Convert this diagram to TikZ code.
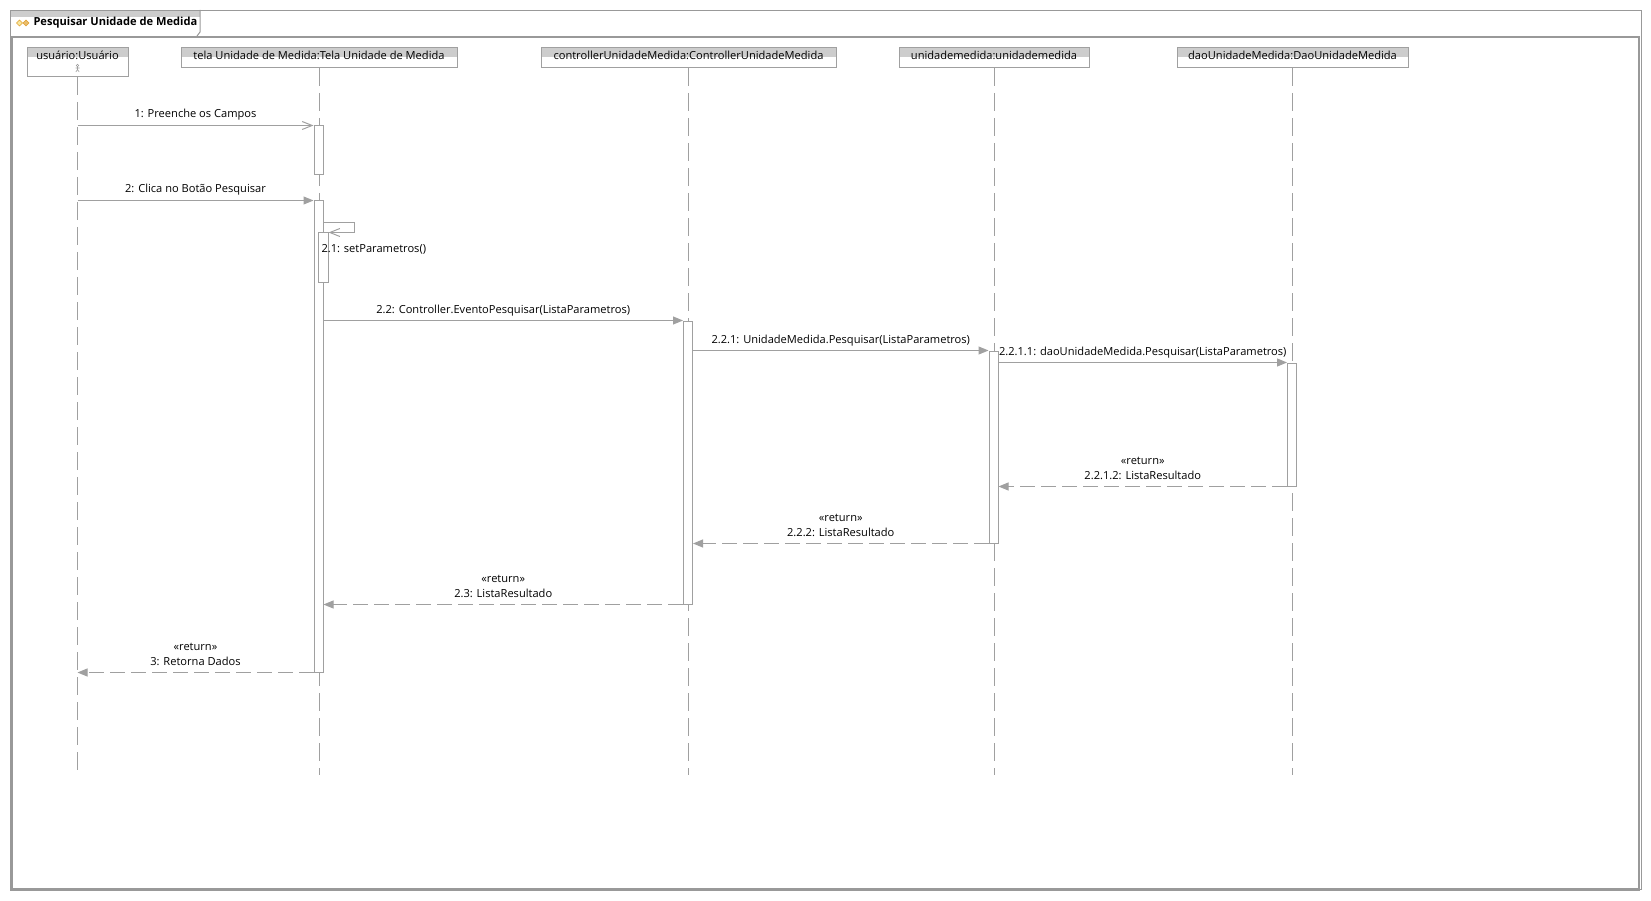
\documentclass[tikz,border=0pt]{standalone}
\usepackage{fontspec}
\setmainfont{Open Sans}
\usepackage{xcolor}
\usepackage{tikz}
\usetikzlibrary{arrows.meta}
\usetikzlibrary{positioning}
\definecolor{linegray}{HTML}{A0A0A0}
\definecolor{bandgray}{HTML}{CDCDCD}
\definecolor{framegray}{HTML}{999999}
\definecolor{iconorange}{HTML}{E0A030}
\definecolor{iconyellow}{HTML}{F8E8A0}

\begin{document}
\begin{tikzpicture}[
    x=1pt, y=-1pt,
    line width=1pt,
    every node/.style={font=\fontsize{11.1}{13}\selectfont},
    head/.style={draw=linegray, fill=white, anchor=north, inner sep=0pt,
      minimum height=20pt, text height=12pt, text depth=8pt,
      path picture={\fill[bandgray] (path picture bounding box.north west)
        rectangle ([yshift=-10pt]path picture bounding box.north east);}},
    act/.style={draw=linegray, fill=white, minimum width=9pt, inner sep=0pt},
    lifeline/.style={draw=linegray, dash pattern=on 18pt off 7pt},
    msg/.style={draw=linegray, -{Triangle[length=10pt,width=8pt]}},
    msgopen/.style={draw=linegray, -{Straight Barb[length=10pt,width=8pt]}},
    reply/.style={draw=linegray, dash pattern=on 15pt off 6pt, -{Triangle[length=10pt,width=8pt]}},
    lbl/.style={inner sep=0pt, text height=9pt, text depth=3pt}
]
\useasboundingbox (0,0) rectangle (1651,901);
\fill[bandgray] (10,10) rectangle (200,17);
\draw[framegray] (10.5,10.5) rectangle (1641,889);
\draw[framegray] (200,10) -- (200,32) -- (197,36);
\draw[framegray, line width=2.5pt] (11.5,37) rectangle (1639,889.5);
\draw[iconorange, fill=iconyellow, line width=0.7pt] (16.5,23) -- (19.5,20) -- (22.5,23) -- (19.5,26) -- cycle;
\draw[iconorange, fill=iconorange!70, line width=0.7pt] (23,23) -- (26,20) -- (29,23) -- (26,26) -- cycle;
\node[anchor=west, inner sep=0pt, font=\fontsize{11.1}{13}\selectfont\bfseries] (title) at (33,22.5) {Pesquisar Unidade de Medida};

\node[head, minimum width=101pt, text depth=17pt] (hUsu) at (77.5,47) {usuário:Usuário};
\node[head, minimum width=276pt] (hTela) at (319,47) {tela Unidade de Medida:Tela Unidade de Medida};
\node[head, minimum width=295pt] (hCtrl) at (688.5,47) {controllerUnidadeMedida:ControllerUnidadeMedida};
\node[head, minimum width=190pt] (hUni) at (994,47) {unidademedida:unidademedida};
\node[head, minimum width=231pt] (hDao) at (1292.5,47) {daoUnidadeMedida:DaoUnidadeMedida};
\draw[linegray, line width=0.6pt] (77.5,65.5) circle (1.3) (77.5,66.8) -- (77.5,69.5)
  (75.5,68) -- (79.5,68) (75.8,72) -- (77.5,69.5) -- (79.2,72);

\coordinate (bot) at (0,775);
\foreach \h in {hUsu,hTela,hCtrl,hUni,hDao}
  \draw[lifeline] (\h.south) -- (\h.south |- bot);

\node[act, minimum height=49pt] (actTa) at (318.5,150.5) {};
\node[act, minimum height=471pt] (actTb) at (318.5,436.5) {};
\node[act, minimum width=10pt, minimum height=50pt] (actS) at (323,258) {};
\node[act, minimum height=283pt] (actC) at (688,462.5) {};
\node[act, minimum height=192pt] (actU) at (993.5,447) {};
\node[act, minimum height=123pt] (actD) at (1292,424.5) {};

\draw[msgopen] (hUsu.south |- actTa.north) -- (actTa.north west)
  node[lbl, midway, above=4pt] (l1) {1: Preenche os Campos};
\draw[msg] (hUsu.south |- actTb.north) -- (actTb.north west)
  node[lbl, midway, above=4pt] (l2) {2: Clica no Botão Pesquisar};
\coordinate (s21) at (354,223);
\draw[msgopen] (s21 -| actTb.east) -- (s21) |- (actS.north east);
\node[lbl, anchor=west] (l21) at (321,250) {2.1: setParametros()};
\draw[msg] (actTb.east |- actC.north) -- (actC.north west)
  node[lbl, midway, above=4pt] (l22) {2.2: Controller.EventoPesquisar(ListaParametros)};
\draw[msg] (actC.east |- actU.north) -- (actU.north west)
  node[lbl, midway, above=4pt] (l221) {2.2.1: UnidadeMedida.Pesquisar(ListaParametros)};
\draw[msg] (actU.east |- actD.north) -- (actD.north west)
  node[lbl, midway, above=4pt] (l2211) {2.2.1.1: daoUnidadeMedida.Pesquisar(ListaParametros)};

\draw[reply] (actD.south west) -- (actU.east |- actD.south)
  node[lbl, midway, above=4pt] (l2212) {2.2.1.2: ListaResultado};
\node[lbl, above=2pt of l2212] (r2212) {«return»};
\draw[reply] (actU.south west) -- (actC.east |- actU.south)
  node[lbl, midway, above=4pt] (l222) {2.2.2: ListaResultado};
\node[lbl, above=2pt of l222] (r222) {«return»};
\draw[reply] (actC.south west) -- (actTb.east |- actC.south)
  node[lbl, midway, above=4pt] (l23) {2.3: ListaResultado};
\node[lbl, above=2pt of l23] (r23) {«return»};
\draw[reply] (actTb.south west) -- (hUsu.south |- actTb.south)
  node[lbl, midway, above=4pt] (l3) {3: Retorna Dados};
\node[lbl, above=2pt of l3] (r3) {«return»};
\end{tikzpicture}
\end{document}
